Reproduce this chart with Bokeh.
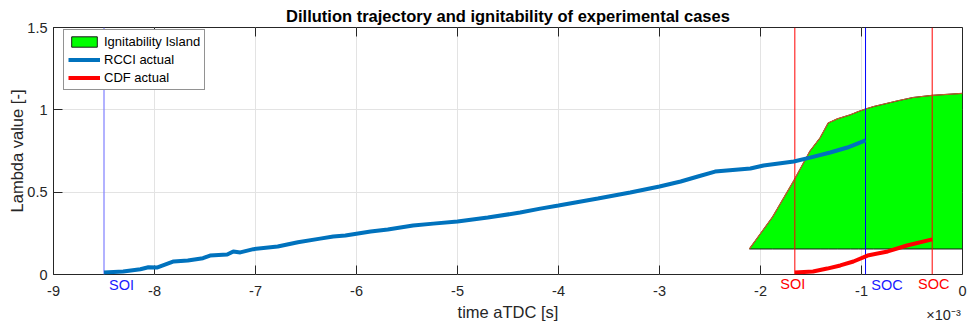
from bokeh.plotting import figure
from bokeh.models import (Range1d, LinearAxis, FixedTicker, Legend, LegendItem,
                          CustomJSTickFormatter)
from bokeh.embed import file_html
from bokeh.resources import INLINE

# ---------------- data (time in units of 1e-3 s) ----------------
rcci_t = [-8.50, -8.31, -8.14, -8.06, -7.97, -7.89, -7.81, -7.67, -7.52, -7.45,
          -7.28, -7.22, -7.15, -7.02, -6.78, -6.58, -6.36, -6.23, -6.11, -5.86,
          -5.69, -5.44, -5.24, -5.00, -4.70, -4.38, -4.18, -4.00, -3.61, -3.29,
          -3.00, -2.79, -2.62, -2.45, -2.10, -1.97, -1.67, -1.51, -1.31, -1.14,
          -0.96]
rcci_lambda = [0.012, 0.018, 0.032, 0.044, 0.043, 0.061, 0.079, 0.085, 0.099, 0.115,
               0.121, 0.140, 0.134, 0.154, 0.170, 0.196, 0.218, 0.231, 0.237, 0.261,
               0.273, 0.297, 0.309, 0.322, 0.346, 0.376, 0.400, 0.419, 0.461, 0.498,
               0.534, 0.565, 0.595, 0.625, 0.644, 0.662, 0.686, 0.710, 0.741, 0.771,
               0.814]

cdf_t = [-1.66, -1.48, -1.34, -1.21, -1.08, -0.94, -0.74, -0.55, -0.30]
cdf_lambda = [0.012, 0.018, 0.036, 0.055, 0.079, 0.115, 0.140, 0.176, 0.213]

island_t = [-2.11, -1.88, -1.67, -1.51, -1.41, -1.33, -1.24, -1.11, -1.03, -0.96,
            -0.88, -0.64, -0.49, -0.30, 0.00]
island_upper = [0.155, 0.35, 0.57, 0.75, 0.83, 0.92, 0.945, 0.97, 0.99, 1.005,
                1.02, 1.055, 1.075, 1.088, 1.10]
island_lower = 0.155

soi_rcci, soc_rcci = -8.50, -0.96
soi_cdf, soc_cdf = -1.66, -0.30

x_ticks = [-9, -8, -7, -6, -5, -4, -3, -2, -1, 0]
y_ticks = [0, 0.5, 1, 1.5]
y_tick_labels = ["0", "0.5", "1", "1.5"]

X_MIN, X_MAX = -9, 0
Y_MIN, Y_MAX = 0, 1.5

FONT = "Liberation Sans"
DARK = "#262626"
PX_X = 909 / 9.0   # pixels per x unit
PX_Y = 247 / 1.5   # pixels per y unit
TICK = 9           # inner tick length, px

p = figure(frame_width=909, frame_height=247,
           x_range=Range1d(X_MIN, X_MAX), y_range=Range1d(Y_MIN, Y_MAX),
           output_backend="svg", toolbar_location=None,
           min_border_left=53, min_border_right=8, min_border_top=27,
           min_border_bottom=50,
           title="Dillution trajectory and ignitability of experimental cases",
           y_axis_label="Lambda value [-]")
p.outline_line_color = DARK
p.outline_line_width = 1
p.title.text_font = FONT
p.title.text_font_size = "16.5px"
p.title.text_font_style = "bold"
p.title.text_color = "black"
p.title.align = "center"
p.title.standoff = 5

# ---- left axis ----
yax = p.left[0]
yax.ticker = FixedTicker(ticks=y_ticks)
yax.major_label_overrides = {t: s for t, s in zip(y_ticks, y_tick_labels)}
yax.major_tick_in = TICK
yax.major_tick_out = 0
yax.minor_tick_in = 0
yax.minor_tick_out = 0
yax.axis_line_color = DARK
yax.major_tick_line_color = DARK
yax.major_label_text_color = DARK
yax.major_label_text_font = FONT
yax.major_label_text_font_size = "14.5px"
yax.major_label_standoff = 6
yax.axis_label_standoff = -2
yax.axis_label_text_font = FONT
yax.axis_label_text_font_size = "16.5px"
yax.axis_label_text_font_style = "normal"
yax.axis_label_text_color = DARK


def text_axis(ticks, formatter, color, standoff, size="14.5px"):
    return LinearAxis(ticker=FixedTicker(ticks=ticks), formatter=formatter,
                      axis_line_color=None, major_tick_line_color=None,
                      minor_tick_line_color=None, major_tick_in=0, major_tick_out=0,
                      minor_tick_in=0, minor_tick_out=0,
                      major_label_standoff=standoff, major_label_text_color=color,
                      major_label_text_font=FONT, major_label_text_font_size=size)


def names(labels):
    return CustomJSTickFormatter(args=dict(labels=labels), code="return labels[index]")


# SOI / SOC labels just below the axis (centres offset from the markers)
blue_ax = text_axis([soi_rcci + 17.5 / PX_X, soc_rcci + 21.5 / PX_X],
                    names(["SOI", "SOC"]), "#1A1AFF", 2)
red_ax = text_axis([soi_cdf - 2 / PX_X, soc_cdf + 1.5 / PX_X],
                   names(["SOI", "SOC"]), "#FF0000", -20)

# numeric tick labels (ticks themselves drawn below as inner marks)
xax = p.below[0]
xax.ticker = FixedTicker(ticks=x_ticks)
xax.formatter = CustomJSTickFormatter(code="return tick.toString()")
xax.axis_line_color = None
xax.major_tick_line_color = None
xax.minor_tick_line_color = None
xax.major_tick_in = 0
xax.major_tick_out = 0
xax.minor_tick_in = 0
xax.minor_tick_out = 0
xax.major_label_standoff = -10
xax.major_label_text_color = DARK
xax.major_label_text_font = FONT
xax.major_label_text_font_size = "14.5px"
xax.axis_label = "time aTDC [s]"
xax.axis_label_standoff = 4
xax.axis_label_text_font = FONT
xax.axis_label_text_font_size = "16.5px"
xax.axis_label_text_font_style = "normal"
xax.axis_label_text_color = DARK

exp_ax = text_axis([X_MAX - 19 / PX_X], names(["\u00d710\u207b\u00b3"]), DARK, -17)

p.below = [blue_ax, red_ax, xax, exp_ax]

p.grid.grid_line_color = "#E3E3E3"
p.xgrid.ticker = FixedTicker(ticks=x_ticks)
p.ygrid.ticker = FixedTicker(ticks=y_ticks)

# inner ticks on bottom, top and right edges
n = len(x_ticks)
p.segment(x0=x_ticks, y0=[Y_MIN] * n, x1=x_ticks, y1=[Y_MIN + TICK / PX_Y] * n,
          line_color=DARK, line_width=1)
p.segment(x0=x_ticks, y0=[Y_MAX] * n, x1=x_ticks, y1=[Y_MAX - TICK / PX_Y] * n,
          line_color=DARK, line_width=1)
m = len(y_ticks)
p.segment(x0=[X_MAX] * m, y0=y_ticks, x1=[X_MAX - TICK / PX_X] * m, y1=y_ticks,
          line_color=DARK, line_width=1)

# ignitability island
patch_x = island_t + island_t[::-1]
patch_y = island_upper + [island_lower] * len(island_t)
island = p.patch(patch_x, patch_y, fill_color="#00FF00", line_color="#1A1A1A",
                 line_width=1)
p.line(island_t, island_upper, line_color="#C0602A", line_width=1.2)

# SOI / SOC vertical markers
p.segment(x0=[soi_rcci], y0=[Y_MIN], x1=[soi_rcci], y1=[Y_MAX],
          line_color="#7F7FFF", line_width=1.2)
p.segment(x0=[soc_rcci], y0=[Y_MIN], x1=[soc_rcci], y1=[Y_MAX],
          line_color="#0000FF", line_width=1)
p.segment(x0=[soi_cdf, soc_cdf], y0=[Y_MIN, Y_MIN], x1=[soi_cdf, soc_cdf],
          y1=[Y_MAX, Y_MAX], line_color="#FF0000", line_width=1)

rcci = p.line(rcci_t, rcci_lambda, line_color="#0072BD", line_width=4)
cdf = p.line(cdf_t, cdf_lambda, line_color="#FF0000", line_width=4)

legend = Legend(items=[LegendItem(label="Ignitability Island", renderers=[island]),
                       LegendItem(label="RCCI actual", renderers=[rcci]),
                       LegendItem(label="CDF actual", renderers=[cdf])],
                location=(10, 184), margin=0, padding=4, spacing=3,
                glyph_width=32, glyph_height=13, label_height=14,
                label_standoff=4, label_text_font=FONT, label_text_font_size="13px",
                label_text_color="black", border_line_color=DARK,
                border_line_width=1, background_fill_alpha=1)
p.add_layout(legend)

open("out.html", "w").write(file_html(p, INLINE))
